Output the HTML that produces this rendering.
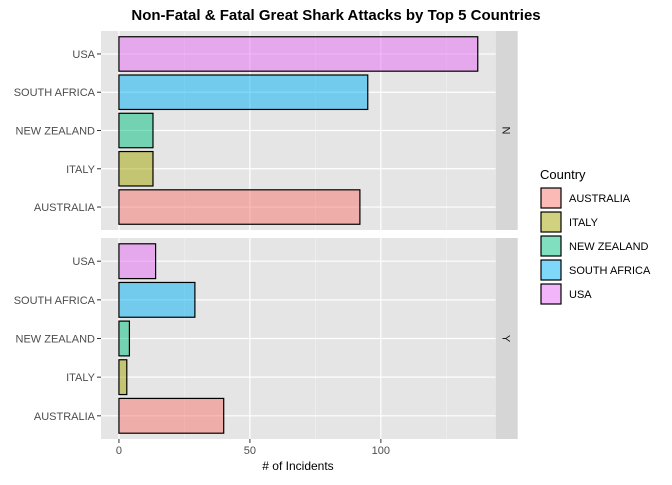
<!DOCTYPE html>
<html><head><meta charset="utf-8"><style>
body{margin:0;background:#fff;font-family:"Liberation Sans",sans-serif}
</style></head><body>
<svg id="c" width="672" height="480" font-family="Liberation Sans, sans-serif"></svg>
<script>
const countries=["AUSTRALIA","ITALY","NEW ZEALAND","SOUTH AFRICA","USA"];
const colors=["#F8766D","#A3A500","#00BF7D","#00B0F6","#E76BF3"];
const facets=["N","Y"];
const valuesN=[92,13,13,95,137];
const valuesY=[40,3,4,29,14];
const xTicks=[0,50,100];
const svg=document.getElementById('c');
const NS="http://www.w3.org/2000/svg";
function el(t,a,p){const e=document.createElementNS(NS,t);for(const k in a)e.setAttribute(k,a[k]);(p||svg).appendChild(e);return e;}
const px0=101,px1=495.7,xmin=-6.85,xmax=143.85;
const X=v=>px0+(v-xmin)/(xmax-xmin)*(px1-px0);
const panels=[{y0:31,y1:230,vals:valuesN},{y0:238,y1:439,vals:valuesY}];
const t=el('text',{x:336,y:20,'text-anchor':'middle','font-size':15,'font-weight':'bold',fill:'#000'});
t.textContent="Non-Fatal & Fatal Great Shark Attacks by Top 5 Countries";

panels.forEach((p,pi)=>{
  const g=el('g',{});
  
  el('rect',{x:px0,y:p.y0,width:px1-px0,height:p.y1-p.y0,fill:'#E5E5E5'},g);
  const step=(p.y1-p.y0)/(countries.length+0.2);
  const Y=i=>p.y1-step*(0.6+i);
  [25,75,125].forEach(v=>el('line',{x1:X(v),x2:X(v),y1:p.y0,y2:p.y1,stroke:'#F2F2F2','stroke-width':0.6},g));
  xTicks.forEach(v=>el('line',{x1:X(v),x2:X(v),y1:p.y0,y2:p.y1,stroke:'#fff','stroke-width':1.2},g));
  countries.forEach((c,i)=>{
    el('line',{x1:px0,x2:px1,y1:Y(i),y2:Y(i),stroke:'#fff','stroke-width':1.2},g);
    el('line',{x1:px0-4,x2:px0,y1:Y(i),y2:Y(i),stroke:'#333','stroke-width':1},g);
    const l=el('text',{x:px0-6,y:Y(i)+4,'text-anchor':'end','font-size':11,fill:'#4D4D4D'},g);l.textContent=c;
    
  });
  p.vals.forEach((v,i)=>{
    const h=step*0.9;
    const b=el('rect',{x:X(0),y:Y(i)-h/2,width:X(v)-X(0),height:h,fill:colors[i],'fill-opacity':0.5,stroke:'#000','stroke-width':1.2},g);
    
    
  });
  el('rect',{x:px1,y:p.y0,width:22,height:p.y1-p.y0,fill:'#D6D6D6'},g);
  const cy=(p.y0+p.y1)/2;
  const s=el('text',{x:px1+11,y:cy,'text-anchor':'middle','font-size':11,fill:'#1A1A1A',transform:`rotate(90 ${px1+11} ${cy})`,dy:4},g);
  s.textContent=facets[pi];
});
xTicks.forEach(v=>{
  el('line',{x1:X(v),x2:X(v),y1:439,y2:443,stroke:'#333'});
  const l=el('text',{x:X(v),y:454,'text-anchor':'middle','font-size':11,fill:'#4D4D4D'});l.textContent=v;
  
});
const xt=el('text',{x:298,y:470,'text-anchor':'middle','font-size':12,fill:'#000'});xt.textContent="# of Incidents";

const lg=el('g',{});
const lt=el('text',{x:540,y:179,'font-size':13,fill:'#000'},lg);lt.textContent="Country";
countries.forEach((c,i)=>{
  const y=187+i*24;
  el('rect',{x:540,y:y,width:22,height:22,fill:'#fff'},lg);
  const r=el('rect',{x:541,y:y+1,width:20,height:20,fill:colors[i],'fill-opacity':0.5,stroke:'#000','stroke-width':1.2},lg);
  
  const tx=el('text',{x:569,y:y+15,'font-size':11,fill:'#000'},lg);tx.textContent=c;
  
});
</script>
</body></html>
